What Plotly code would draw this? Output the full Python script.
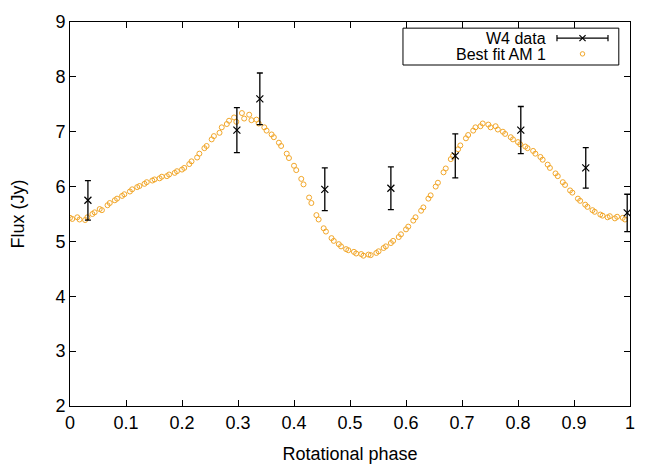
import plotly.graph_objects as go

# W4 photometry folded on the rotation period
W4_PHASE = [0.032, 0.298, 0.339, 0.455, 0.573, 0.688, 0.805, 0.921, 0.995]
W4_FLUX = [5.75, 7.03, 7.60, 5.95, 5.97, 6.56, 7.03, 6.34, 5.52]
W4_ERR = [0.36, 0.41, 0.47, 0.39, 0.39, 0.40, 0.43, 0.37, 0.34]

# Best fit model (AM 1), sampled points
FIT_PHASE = [
    0.000, 0.004, 0.013, 0.017, 0.027, 0.031, 0.040, 0.044, 0.053, 0.057,
    0.067, 0.071, 0.080, 0.084, 0.093, 0.097, 0.107, 0.111, 0.120, 0.124,
    0.133, 0.137, 0.147, 0.151, 0.160, 0.164, 0.173, 0.177, 0.187, 0.191,
    0.200, 0.204, 0.213, 0.217, 0.227, 0.231, 0.240, 0.244, 0.253, 0.257,
    0.267, 0.271, 0.280, 0.284, 0.293, 0.297, 0.307, 0.311, 0.320, 0.324,
    0.333, 0.337, 0.347, 0.351, 0.360, 0.364, 0.373, 0.377, 0.387, 0.391,
    0.400, 0.404, 0.413, 0.417, 0.427, 0.431, 0.440, 0.444, 0.453, 0.457,
    0.467, 0.471, 0.480, 0.484, 0.493, 0.497, 0.507, 0.511, 0.520, 0.524,
    0.533, 0.537, 0.547, 0.551, 0.560, 0.564, 0.573, 0.577, 0.587, 0.591,
    0.600, 0.604, 0.613, 0.617, 0.627, 0.631, 0.640, 0.644, 0.653, 0.657,
    0.667, 0.671, 0.680, 0.684, 0.693, 0.697, 0.707, 0.711, 0.720, 0.724,
    0.733, 0.737, 0.747, 0.751, 0.760, 0.764, 0.773, 0.777, 0.787, 0.791,
    0.800, 0.804, 0.813, 0.817, 0.827, 0.831, 0.840, 0.844, 0.853, 0.857,
    0.867, 0.871, 0.880, 0.884, 0.893, 0.897, 0.907, 0.911, 0.920, 0.924,
    0.933, 0.937, 0.947, 0.951, 0.960, 0.964, 0.973, 0.977, 0.987, 0.991,
]
FIT_FLUX = [
    5.43, 5.41, 5.44, 5.40, 5.39, 5.44, 5.50, 5.53, 5.59, 5.57,
    5.66, 5.70, 5.75, 5.78, 5.83, 5.86, 5.91, 5.95, 5.99, 6.01,
    6.05, 6.08, 6.11, 6.13, 6.15, 6.18, 6.19, 6.22, 6.25, 6.28,
    6.31, 6.34, 6.41, 6.46, 6.53, 6.60, 6.70, 6.74, 6.86, 6.92,
    6.98, 7.08, 7.14, 7.20, 7.26, 7.18, 7.34, 7.24, 7.31, 7.21,
    7.22, 7.15, 7.08, 7.02, 6.95, 6.90, 6.80, 6.74, 6.60, 6.52,
    6.38, 6.30, 6.14, 6.04, 5.80, 5.70, 5.48, 5.40, 5.24, 5.18,
    5.06, 5.01, 4.95, 4.91, 4.86, 4.84, 4.81, 4.78, 4.77, 4.74,
    4.76, 4.75, 4.79, 4.82, 4.88, 4.91, 4.97, 5.01, 5.08, 5.13,
    5.22, 5.27, 5.38, 5.44, 5.56, 5.62, 5.78, 5.84, 6.00, 6.07,
    6.26, 6.33, 6.50, 6.56, 6.68, 6.75, 6.88, 6.94, 7.02, 7.08,
    7.10, 7.15, 7.13, 7.08, 7.10, 7.04, 7.00, 6.96, 6.90, 6.86,
    6.81, 6.77, 6.73, 6.70, 6.65, 6.60, 6.54, 6.49, 6.40, 6.34,
    6.24, 6.19, 6.08, 6.03, 5.93, 5.89, 5.78, 5.74, 5.67, 5.63,
    5.57, 5.54, 5.49, 5.47, 5.44, 5.46, 5.42, 5.45, 5.43, 5.40,
]

X_TICKS = [0, 0.1, 0.2, 0.3, 0.4, 0.5, 0.6, 0.7, 0.8, 0.9, 1]
X_TICK_TEXT = ['0', '0.1', '0.2', '0.3', '0.4', '0.5', '0.6', '0.7', '0.8', '0.9', '1']
Y_TICKS = [2, 3, 4, 5, 6, 7, 8, 9]

ORANGE = '#f2a72a'
FONT = 'Liberation Sans, Arial, sans-serif'
FSIZE = 18
KEY_FSIZE = 16

fig = go.Figure()

fig.add_trace(go.Scatter(
    x=FIT_PHASE,
    y=FIT_FLUX,
    mode='markers',
    name='Best fit AM 1',
    marker={
        'symbol': 'circle-open',
        'size': 5,
        'color': ORANGE,
        'line': {'width': 1, 'color': ORANGE},
    },
    showlegend=False,
))

fig.add_trace(go.Scatter(
    x=W4_PHASE,
    y=W4_FLUX,
    mode='markers',
    name='W4 data',
    marker={
        'symbol': 'x-thin',
        'size': 7,
        'color': 'black',
        'line': {'width': 1.2, 'color': 'black'},
    },
    error_y={
        'type': 'data',
        'array': W4_ERR,
        'visible': True,
        'color': 'black',
        'thickness': 1.3,
        'width': 3,
    },
    showlegend=False,
))

# gnuplot-like key box, drawn in paper coordinates
fig.add_shape(type='rect', xref='paper', yref='paper',
              x0=0.5946, x1=0.980, y0=0.888, y1=0.984,
              line={'color': 'black', 'width': 1}, fillcolor='white', layer='above')
fig.add_annotation(xref='paper', yref='paper', x=0.852, y=0.958,
                   text='W4 data', showarrow=False, xanchor='right', yanchor='middle',
                   borderpad=0,
                   font={'size': KEY_FSIZE, 'color': 'black', 'family': FONT})
fig.add_annotation(xref='paper', yref='paper', x=0.852, y=0.915,
                   text='Best fit AM 1', showarrow=False, xanchor='right', yanchor='middle',
                   borderpad=0,
                   font={'size': KEY_FSIZE, 'color': 'black', 'family': FONT})
# error bar sample
fig.add_shape(type='line', xref='paper', yref='paper',
              x0=0.8696, x1=0.9607, y0=0.958, y1=0.958,
              line={'color': 'black', 'width': 1.2}, layer='above')
for xc in (0.8696, 0.9607):
    fig.add_shape(type='line', xref='paper', yref='paper',
                  x0=xc, x1=xc, y0=0.950, y1=0.966,
                  line={'color': 'black', 'width': 1.2}, layer='above')
for dx, dy in ((1, 1), (1, -1)):
    fig.add_shape(type='line', xref='paper', yref='paper',
                  x0=0.9152 - 0.0055 * dx, x1=0.9152 + 0.0055 * dx,
                  y0=0.958 - 0.008 * dy, y1=0.958 + 0.008 * dy,
                  line={'color': 'black', 'width': 1.2}, layer='above')
fig.add_shape(type='circle', xref='paper', yref='paper',
              x0=0.9152 - 0.0040, x1=0.9152 + 0.0040,
              y0=0.917 - 0.0058, y1=0.917 + 0.0058,
              line={'color': ORANGE, 'width': 1}, layer='above')

axis_style = {
    'showline': True,
    'linecolor': 'black',
    'linewidth': 1,
    'mirror': 'allticks',
    'ticks': 'inside',
    'ticklen': 6,
    'tickwidth': 1,
    'tickcolor': 'black',
    'showgrid': False,
    'zeroline': False,
    'automargin': False,
    'tickfont': {'size': FSIZE, 'color': 'black', 'family': FONT},
}

fig.update_xaxes(
    range=[0, 1],
    tickvals=X_TICKS,
    ticktext=X_TICK_TEXT,
    title={'text': 'Rotational phase', 'font': {'size': FSIZE, 'color': 'black', 'family': FONT},
           'standoff': 15},
    **axis_style
)
fig.update_yaxes(
    range=[2, 9],
    tickvals=Y_TICKS,
    title={'text': 'Flux (Jy)', 'font': {'size': FSIZE, 'color': 'black', 'family': FONT},
           'standoff': 27},
    **axis_style
)

# the page body adds an 8px offset, so the figure is 8px smaller than the window
fig.update_layout(
    width=656,
    height=457,
    margin={'l': 62, 'r': 34, 't': 14, 'b': 59},
    plot_bgcolor='white',
    paper_bgcolor='white',
    font={'family': FONT, 'color': 'black'},
    showlegend=False,
)

fig.write_html("out.html")
